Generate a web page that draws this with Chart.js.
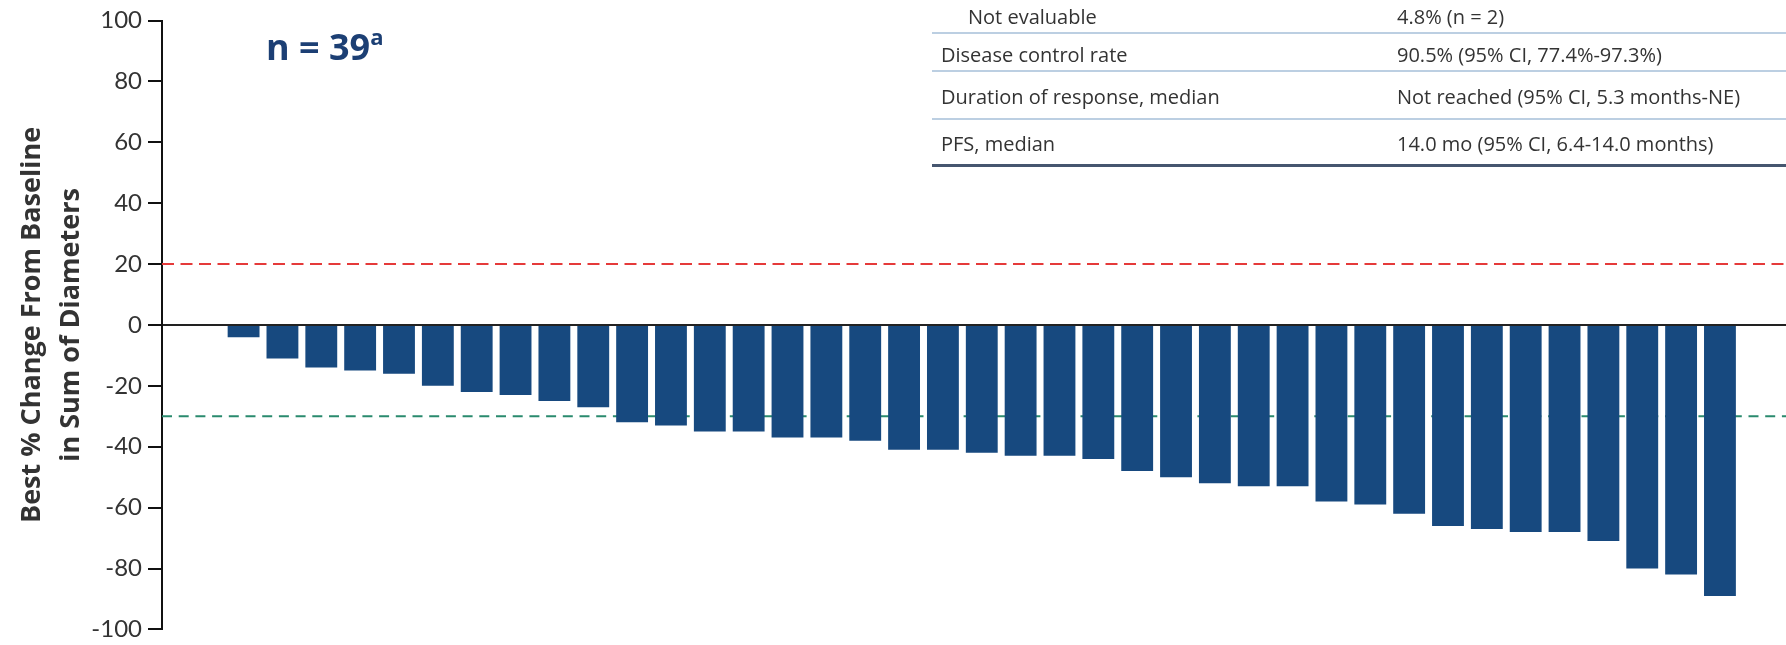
<!DOCTYPE html>
<html>
<head>
<meta charset="utf-8">
<title>Best % change from baseline</title>
<script src="https://cdn.jsdelivr.net/npm/chart.js@4.4.1/dist/chart.umd.min.js"></script>
<style>
  html, body { margin: 0; padding: 0; background: #fff; }
  #wrap { position: relative; width: 1786px; height: 645px; overflow: hidden; }
  #chart { position: absolute; left: 0; top: 0; }
  .n-label { position: absolute; left: 266px; top: 22px; font: bold 36px "Open Sans"; line-height: 50px; color: #1c3f74; white-space: nowrap; }
  .n-label span { font-size: 22px; position: relative; top: -15px; }
  .cell { position: absolute; font: 20px "Open Sans"; line-height: 27px; color: #333; white-space: nowrap; }
  .rule { position: absolute; left: 932px; right: 0; height: 2px; background: #bccfe2; }
  .rule.thick { height: 3px; background: #46566f; }
</style>
</head>
<body>
<div id="wrap">
  <canvas id="chart" width="1786" height="645"></canvas>
  <div class="n-label">n = 39<span>a</span></div>
  <div id="table"></div>
</div>
<script>
// best % change per patient, sorted (waterfall)
const bestChange = [
    -4, -11, -14, -15, -16, -20, -22, -23, -25, -27,
    -32, -33, -35, -35, -37, -37, -38, -41, -41, -42,
    -43, -43, -44, -48, -50, -52, -53, -53, -58, -59,
    -62, -66, -67, -68, -68, -71, -80, -82, -89
]

const yTickValues = [-100, -80, -60, -40, -20, 0, 20, 40, 60, 80, 100]
const yTitleLines = ["Best % Change From Baseline", "in Sum of Diameters"]

// reference lines: progression (+20) and partial response (-30)
const progressionLine = 20
const responseLine = -30

// summary table in the top right
const tableLabels = [
    "Not evaluable",
    "Disease control rate",
    "Duration of response, median",
    "PFS, median"
]
const tableValues = [
    "4.8% (n = 2)",
    "90.5% (95% CI, 77.4%-97.3%)",
    "Not reached (95% CI, 5.3 months-NE)",
    "14.0 mo (95% CI, 6.4-14.0 months)"
]

// table layout
const rowTops = [3, 41, 83, 130]
const labelLefts = [968, 941, 941, 941]
const ruleTops = [32, 70, 118, 164]

const table = document.getElementById("table");
tableLabels.forEach(function(label, i) {
    const l = document.createElement("div");
    l.className = "cell";
    l.style.left = labelLefts[i] + "px";
    l.style.top = rowTops[i] + "px";
    l.textContent = label;
    table.appendChild(l);

    const v = document.createElement("div");
    v.className = "cell";
    v.style.left = "1397px";
    v.style.top = rowTops[i] + "px";
    v.textContent = tableValues[i];
    table.appendChild(v);

    const r = document.createElement("div");
    r.className = i === tableLabels.length - 1 ? "rule thick" : "rule";
    r.style.top = ruleTops[i] + "px";
    table.appendChild(r);
});

const xMin = -1.1;
const xMax = 40.7;

const barPoints = bestChange.map(function(v, i) { return { x: i + 1, y: v }; });

new Chart("chart", {
    type: "bar",
    data: {
        datasets: [
            {
                type: "bar",
                data: barPoints,
                backgroundColor: "#17497f",
                categoryPercentage: 1,
                barPercentage: 0.82,
                order: 1
            },
            {
                type: "line",
                data: [{ x: xMin, y: progressionLine }, { x: xMax, y: progressionLine }],
                borderColor: "#e53a3a",
                borderWidth: 2,
                borderDash: [12, 6.5],
                pointRadius: 0,
                fill: false,
                order: 2
            },
            {
                type: "line",
                data: [{ x: xMin, y: responseLine }, { x: xMax, y: responseLine }],
                borderColor: "#2a8a6e",
                borderWidth: 2,
                borderDash: [10, 6.7],
                pointRadius: 0,
                fill: false,
                order: 2
            }
        ]
    },
    options: {
        responsive: false,
        animation: false,
        layout: { padding: { top: 20.5, bottom: 10, left: 0, right: 0 } },
        plugins: {
            legend: { display: false },
            tooltip: { enabled: false }
        },
        scales: {
            x: {
                type: "linear",
                min: xMin,
                max: xMax,
                offset: false,
                bounds: "data",
                display: false
            },
            y: {
                min: -100,
                max: 100,
                z: 1,
                afterBuildTicks: function(s) { s.ticks = yTickValues.map(function(v) { return { value: v }; }); },
                afterFit: function(s) { s.width = 162; },
                border: { display: true, color: "#111", width: 2 },
                grid: {
                    drawOnChartArea: true,
                    color: function(c) { return c.tick && c.tick.value === 0 ? "#222" : "rgba(0,0,0,0)"; },
                    lineWidth: 2,
                    tickColor: "#111",
                    tickLength: 14,
                    tickWidth: 2
                },
                ticks: {
                    padding: 6,
                    color: "#333",
                    font: { family: "Lato", size: 24, lineHeight: 0.8 }
                },
                title: {
                    display: true,
                    text: yTitleLines,
                    color: "#333",
                    font: { family: "Open Sans", size: 27, weight: "bold", lineHeight: 1.44 },
                    padding: { top: 13, bottom: 0 }
                }
            }
        }
    }
});
</script>
</body>
</html>
